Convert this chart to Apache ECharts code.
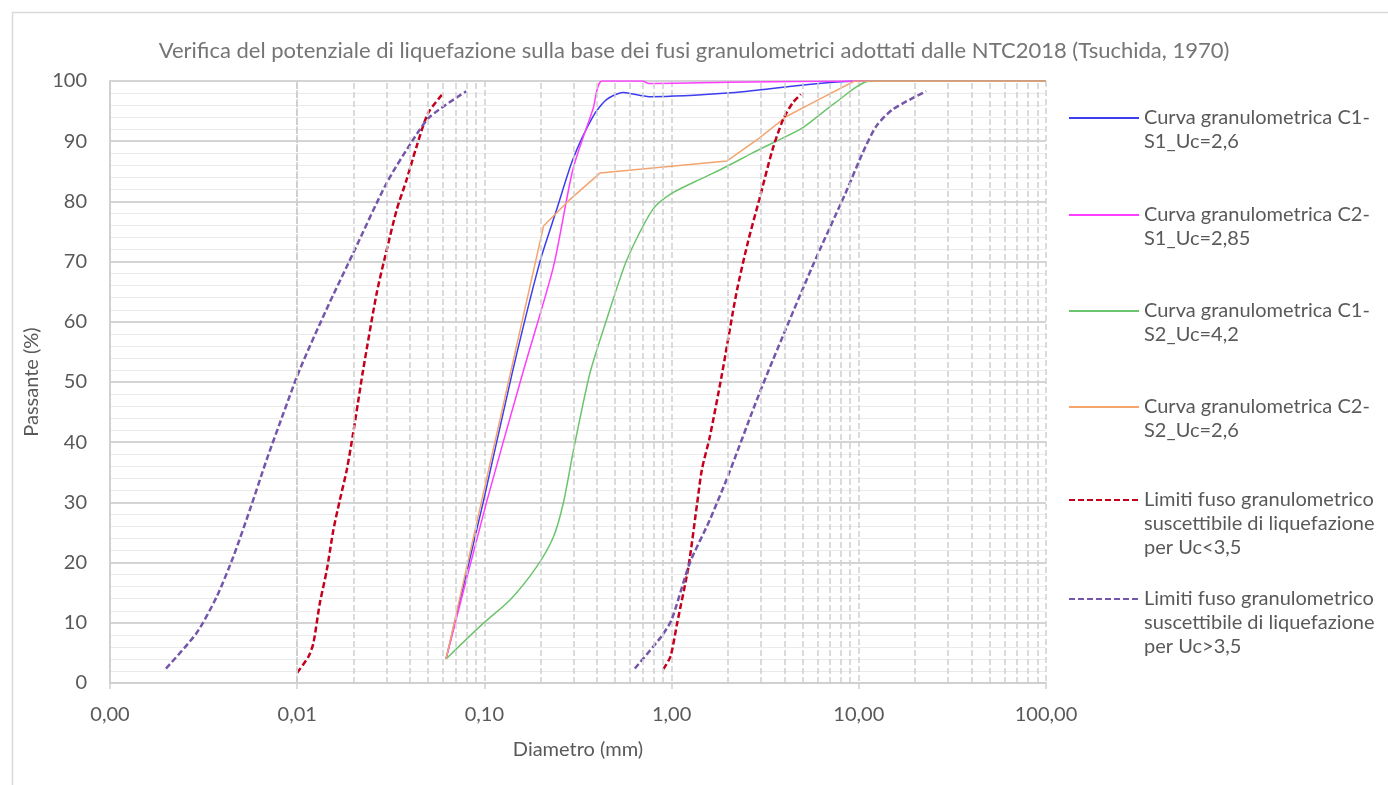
<!DOCTYPE html>
<html>
<head>
<meta charset="utf-8">
<script src="https://cdn.jsdelivr.net/npm/echarts@6/dist/echarts.min.js"></script>
<style>
  html, body { margin: 0; padding: 0; background: #fff; }
  #chart { width: 1388px; height: 785px; }
</style>
</head>
<body>
<div id="chart"></div>
<script>
// curve names (legend text)
const names = [
  'Curva granulometrica C1-\nS1_Uc=2,6',
  'Curva granulometrica C2-\nS1_Uc=2,85',
  'Curva granulometrica C1-\nS2_Uc=4,2',
  'Curva granulometrica C2-\nS2_Uc=2,6',
  'Limiti fuso granulometrico\nsuscettibile di liquefazione\nper Uc<3,5',
  'Limiti fuso granulometrico\nsuscettibile di liquefazione\nper Uc>3,5'
];
const colors = ['#3c3cf0', '#ff3cff', '#6cc46c', '#f5a46e', '#c4001c', '#7456aa'];

// [diametro mm, passante %]
const c1s1 = [[0.0624, 4], [0.0985, 30], [0.142, 52], [0.198, 70], [0.243, 78.6], [0.297, 87],
  [0.38, 94.1], [0.449, 96.9], [0.55, 98.1], [0.76, 97.4], [2.0, 98], [10, 100], [100, 100]];
const c2s1 = [[0.0624, 4], [0.1026, 30], [0.162, 52], [0.234, 69.2], [0.297, 85.3], [0.38, 95.3],
  [0.425, 100], [0.70, 100], [0.75, 99.6], [2.0, 99.8], [10, 100], [100, 100]];
const c1s2 = [[0.0624, 4], [0.0985, 9.9], [0.137, 13.8], [0.19, 19.3], [0.234, 24.3], [0.264, 29.9],
  [0.297, 38.2], [0.337, 46.5], [0.37, 52], [0.449, 60.3], [0.577, 70.3], [0.79, 78.6], [1.01, 81.4],
  [1.47, 83.9], [1.97, 85.8], [2.72, 88.1], [3.46, 89.7], [5.0, 92.2], [7.5, 96.4], [11.5, 100], [100, 100]];
const c2s2 = [[0.0624, 4], [0.207, 75.9], [0.286, 80.3], [0.414, 84.7], [1.97, 86.7], [2.94, 90.5],
  [4.1, 94.1], [6.1, 96.9], [9.5, 100], [100, 100]];

// fuso Uc<3,5 (two limit branches)
const fusoA_left = [[0.0100, 1.7], [0.0115, 4.4], [0.0122, 6.6], [0.0132, 13.2], [0.0144, 18.8],
  [0.0156, 25.4], [0.0169, 30.4], [0.0184, 35.4], [0.0199, 41.5], [0.0211, 46.5], [0.0225, 52],
  [0.0266, 64.8], [0.0301, 72], [0.034, 78.6], [0.0384, 83.6], [0.0435, 89.2], [0.0501, 94.7], [0.0604, 98]];
const fusoA_right = [[0.903, 2.3], [0.986, 4.4], [1.07, 9.9], [1.23, 19.3], [1.37, 29.9], [1.45, 35.4],
  [1.60, 40.9], [1.85, 51], [2.22, 64.8], [2.55, 73.1], [2.94, 80.3], [3.46, 88.6], [3.94, 93.6],
  [4.44, 96.4], [4.9, 97.8]];
// fuso Uc>3,5
const fusoB_left = [[0.00199, 2.4], [0.0029, 8.3], [0.00371, 14.3], [0.00456, 21], [0.00559, 28.8],
  [0.00687, 37.1], [0.00844, 44.8], [0.0103, 52], [0.0143, 62], [0.0199, 71.4], [0.0301, 83.1],
  [0.0417, 90.3], [0.0513, 94.1], [0.08, 98.3]];
const fusoB_right = [[0.636, 2.4], [0.88, 7.7], [1.0, 10.5], [1.25, 19.9], [1.6, 27.1], [2.03, 34.9],
  [2.81, 46.5], [3.46, 53.5], [5.65, 69.2], [8.5, 81.4], [10.5, 88.1], [12.4, 92.5], [15.2, 95.3], [22.9, 98.3]];

// minor vertical grid lines (2..9 of each decade)
const minorX = [];
[0.001, 0.01, 0.1, 1, 10].forEach(d => {
  for (let k = 2; k <= 9; k++) minorX.push(+(d * k).toPrecision(3));
});

const legendTops = [82, 179, 275, 371, 440, 539];
const FONT = 'Lato, "Open Sans", sans-serif';
const textGrey = '#595959';

function solid(i, data) {
  return {
    name: names[i], type: 'line', data: data, showSymbol: false, symbol: 'none',
    smooth: i === 3 ? false : 0.25,
    lineStyle: { color: colors[i], width: 1.5 }, itemStyle: { color: colors[i] },
    z: 3
  };
}
function dashed(i, data) {
  return {
    name: names[i], type: 'line', data: data, showSymbol: false, symbol: 'none', smooth: 0.25,
    lineStyle: { color: colors[i], width: 2.5, type: [6, 3] }, itemStyle: { color: colors[i] },
    z: 3
  };
}

const option = {
  animation: false,
  textStyle: { fontFamily: FONT },
  title: {
    text: 'Verifica del potenziale di liquefazione sulla base dei fusi granulometrici adottati dalle NTC2018 (Tsuchida, 1970)',
    left: 'center', top: 35,
    textStyle: { fontFamily: FONT, fontSize: 22, fontWeight: 'normal', color: '#757575' }
  },
  graphic: [{
    type: 'rect', silent: true, z: -10,
    shape: { x: 12.5, y: 12.5, width: 1400, height: 800 },
    style: { fill: 'none', stroke: '#d9d9d9', lineWidth: 1.5 }
  }],
  legend: names.map((n, i) => ({
    data: [n], orient: 'vertical', left: 1068, top: legendTops[i], padding: 0,
    itemWidth: 70, itemHeight: 14, selectedMode: false,
    itemStyle: { opacity: 0 },
    formatter: name => '\n'.repeat(name.split('\n').length - 1) + name,
    textStyle: { fontFamily: FONT, fontSize: 20, lineHeight: 24, color: textGrey }
  })),
  grid: { left: 110, top: 81, right: 342, bottom: 102 },
  xAxis: {
    type: 'log', logBase: 10, min: 0.001, max: 100,
    name: 'Diametro (mm)', nameLocation: 'middle', nameGap: 57,
    nameTextStyle: { fontFamily: FONT, fontSize: 20, color: textGrey },
    axisLine: { show: true, lineStyle: { color: '#d0d0d0', width: 2 } },
    axisTick: { show: true, length: 6, lineStyle: { color: '#d0d0d0', width: 1.5 } },
    axisLabel: {
      fontFamily: FONT, fontSize: 20, color: textGrey, margin: 22,
      formatter: v => v.toFixed(2).replace('.', ',')
    },
    splitLine: { show: true, lineStyle: { color: '#d0d0d0', width: 1.5, type: [6, 3] } }
  },
  yAxis: {
    type: 'value', min: 0, max: 100, interval: 10,
    name: 'Passante (%)', nameLocation: 'middle', nameGap: 62,
    nameTextStyle: { fontFamily: FONT, fontSize: 20, color: textGrey },
    axisLine: { show: true, lineStyle: { color: '#d0d0d0', width: 2 } },
    axisTick: { show: false },
    axisLabel: { fontFamily: FONT, fontSize: 20, color: textGrey, margin: 23 },
    splitLine: { show: true, lineStyle: { color: '#d4d4d4', width: 2 } },
    minorTick: { show: false, splitNumber: 5 },
    minorSplitLine: { show: true, lineStyle: { color: '#ebebeb', width: 1 } }
  },
  series: [
    {
      name: 'grid-minor', type: 'line', data: [], z: 1, silent: true,
      markLine: {
        silent: true, symbol: ['none', 'none'], label: { show: false },
        lineStyle: { color: '#d0d0d0', width: 1.5, type: [6, 3] },
        emphasis: { disabled: true },
        data: minorX.map(v => ({ xAxis: v }))
      }
    },
    solid(0, c1s1),
    solid(1, c2s1),
    solid(2, c1s2),
    solid(3, c2s2),
    dashed(4, fusoA_left),
    dashed(4, fusoA_right),
    dashed(5, fusoB_left),
    dashed(5, fusoB_right)
  ]
};

const chart = echarts.init(document.getElementById('chart'), null, { renderer: 'canvas' });
chart.setOption(option);
</script>
</body>
</html>
